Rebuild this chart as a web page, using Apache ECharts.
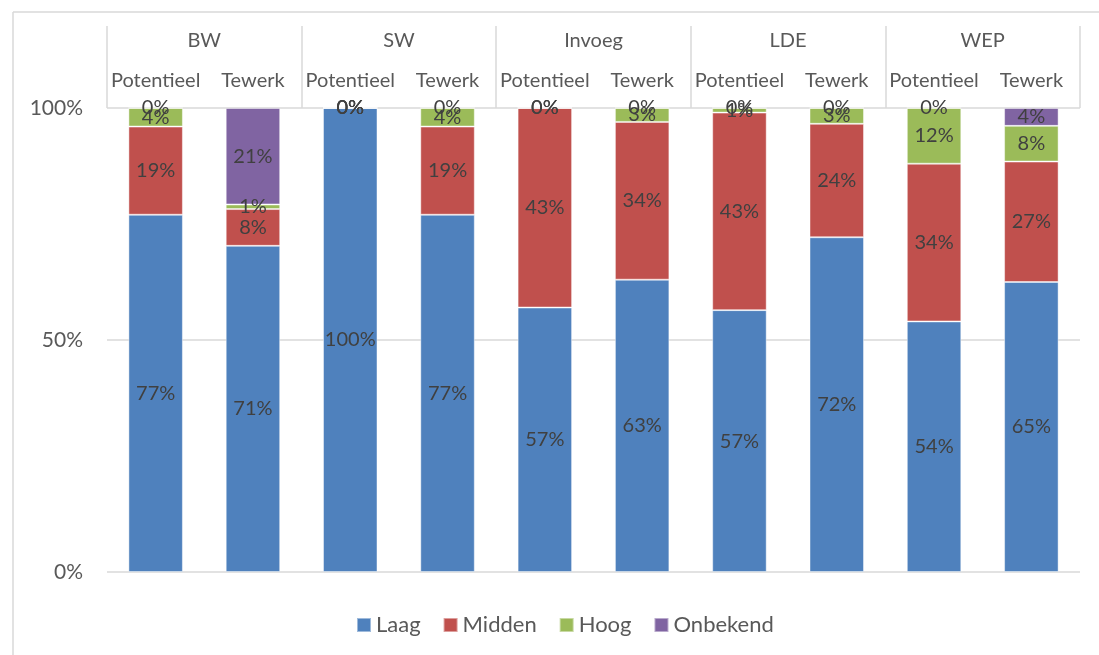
<!DOCTYPE html>
<html>
<head>
<meta charset="utf-8">
<script src="https://cdn.jsdelivr.net/npm/echarts@6/dist/echarts.min.js"></script>
<style>html,body{margin:0;padding:0;background:#fff}#c{width:1099px;height:655px}</style>
</head>
<body>
<div id="c"></div>
<script>
var groups = ['BW', 'SW', 'Invoeg', 'LDE', 'WEP'];
var subCategories = ['Potentieel', 'Tewerk', 'Potentieel', 'Tewerk', 'Potentieel', 'Tewerk', 'Potentieel', 'Tewerk', 'Potentieel', 'Tewerk'];
var seriesNames = ['Laag', 'Midden', 'Hoog', 'Onbekend'];
var laag     = [77, 71, 100, 77, 57, 63, 57, 72, 54, 65];
var midden   = [19,  8,   0, 19, 43, 34, 43, 24.4, 34, 27];
var hoog     = [ 4,  1,   0,  4,  0,  3,  1, 3.4, 12,  8];
var onbekend = [ 0, 21,   0,  0,  0,  0,  0,  0,  0,  4];
var yTicks = ['0%', '50%', '100%'];

var colors = ['#4F81BD', '#C0504D', '#9BBB59', '#8064A2'];
var raw = [laag, midden, hoog, onbekend];
var totals = laag.map(function (_, i) { return raw.reduce(function (s, a) { return s + a[i]; }, 0); });
var FONT = 'Lato';

var series = raw.map(function (arr, k) {
  return {
    name: seriesNames[k],
    type: 'bar',
    stack: 'total',
    barWidth: '56%',
    itemStyle: { color: colors[k], borderColor: 'rgba(255,255,255,0.45)', borderWidth: 1 },
    label: {
      show: true, position: 'inside', color: '#404040', fontSize: 20, fontFamily: FONT,
      formatter: function (p) { return Math.round(p.data.raw) + '%'; }
    },
    data: arr.map(function (v, i) { return { value: v / totals[i] * 100, raw: v }; })
  };
});

var chart = echarts.init(document.getElementById('c'), null, { renderer: 'canvas' });
chart.setOption({
  animation: false,
  backgroundColor: '#fff',
  textStyle: { fontFamily: FONT },
  grid: { left: 107, right: 19, top: 108, bottom: 83, containLabel: false },
  legend: {
    data: seriesNames, left: 351, top: 609, itemWidth: 14, itemHeight: 14, itemGap: 22,
    icon: 'rect', textStyle: { color: '#595959', fontSize: 22, fontFamily: FONT }
  },
  xAxis: [
    {
      type: 'category', position: 'top', data: subCategories,
      axisLine: { show: false }, axisTick: { show: false },
      axisLabel: { color: '#595959', fontSize: 20, fontFamily: FONT, margin: 17, interval: 0 }
    },
    {
      type: 'category', position: 'top', data: groups,
      axisLine: { show: false },
      axisTick: { show: true, length: 82, interval: 0, lineStyle: { color: '#d9d9d9', width: 1.5 } },
      axisLabel: { color: '#595959', fontSize: 20, fontFamily: FONT, margin: 57, interval: 0 }
    }
  ],
  yAxis: {
    type: 'value', min: 0, max: 100, interval: 50,
    axisLine: { show: false }, axisTick: { show: false },
    splitLine: { lineStyle: { color: '#d9d9d9', width: 1.5 } },
    axisLabel: {
      color: '#595959', fontSize: 21, fontFamily: FONT, margin: 24,
      formatter: function (v) { return yTicks[Math.round(v / 50)]; }
    }
  },
  graphic: [
    { type: 'line', shape: { x1: 13, y1: 12, x2: 1099, y2: 12 }, style: { stroke: '#d9d9d9', lineWidth: 1.5 } },
    { type: 'line', shape: { x1: 13, y1: 12, x2: 13, y2: 655 }, style: { stroke: '#d9d9d9', lineWidth: 1.5 } }
  ],
  series: series
});
</script>
</body>
</html>
